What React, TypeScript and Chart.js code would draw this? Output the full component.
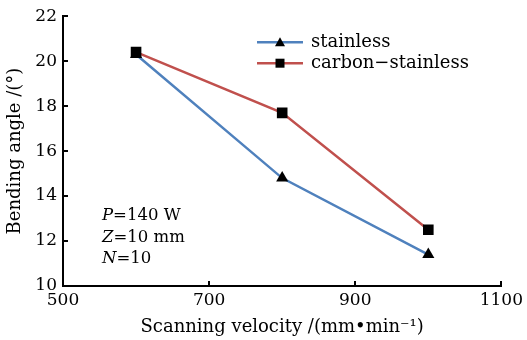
import React, { useEffect, useRef } from 'react';
import { Chart, registerables } from 'chart.js';

Chart.register(...registerables);

const velocities = [600, 800, 1000];
const stainless = [20.3, 14.8, 11.4];
const carbonStainless = [20.4, 17.7, 12.5];
const xTicks = [500, 700, 900, 1100];
const yTicks = [10, 12, 14, 16, 18, 20, 22];
const seriesNames = ['stainless', 'carbon\u2212stainless'];
const seriesColors = ['#4F81BD', '#C0504D'];
const seriesMarkers = ['triangle', 'rect'];
const annotations = [
  ['P', '=140 W'],
  ['Z', '=10 mm'],
  ['N', '=10'],
];
const xTitle = 'Scanning velocity /(mm\u2022min\u207B\u00B9)';
const yTitle = 'Bending angle /(\u00B0)';

const FONT = '"DejaVu Serif", "Liberation Serif", serif';

const decor = {
  id: 'decor',
  afterDraw(chart: any) {
    const ctx = chart.ctx as CanvasRenderingContext2D;
    const xs = chart.scales.x;
    const ys = chart.scales.y;
    const area = chart.chartArea;
    ctx.save();
    // inward ticks
    ctx.strokeStyle = '#000';
    ctx.lineWidth = 2;
    yTicks.slice(1).forEach((v) => {
      const py = Math.round(ys.getPixelForValue(v));
      ctx.beginPath();
      ctx.moveTo(area.left, py);
      ctx.lineTo(area.left + 5, py);
      ctx.stroke();
    });
    xTicks.slice(1).forEach((v) => {
      const px = Math.round(xs.getPixelForValue(v));
      ctx.beginPath();
      ctx.moveTo(px, area.bottom);
      ctx.lineTo(px, area.bottom - 5);
      ctx.stroke();
    });

    // legend
    const lx = area.left + 194;
    const rows = [area.top + 26, area.top + 47];
    seriesNames.forEach((name, i) => {
      const ry = rows[i];
      ctx.strokeStyle = seriesColors[i];
      ctx.lineWidth = 2.5;
      ctx.beginPath();
      ctx.moveTo(lx, ry);
      ctx.lineTo(lx + 46, ry);
      ctx.stroke();
      ctx.fillStyle = '#000';
      ctx.beginPath();
      const cx = lx + 23;
      if (seriesMarkers[i] === 'triangle') {
        ctx.moveTo(cx, ry - 5);
        ctx.lineTo(cx + 5, ry + 4);
        ctx.lineTo(cx - 5, ry + 4);
        ctx.closePath();
      } else {
        ctx.rect(cx - 4.5, ry - 4.5, 9, 9);
      }
      ctx.fill();
      ctx.font = '18px ' + FONT;
      ctx.textBaseline = 'middle';
      ctx.textAlign = 'left';
      ctx.fillText(name, lx + 54, ry);
    });

    // annotation
    const ax = area.left + 39;
    const arows = [area.top + 200, area.top + 222, area.top + 243];
    annotations.forEach(([it, rest], i) => {
      ctx.fillStyle = '#000';
      ctx.textBaseline = 'middle';
      ctx.font = 'italic 16.5px ' + FONT;
      ctx.fillText(it, ax, arows[i]);
      const w = ctx.measureText(it).width;
      ctx.font = '16.5px ' + FONT;
      ctx.fillText(rest, ax + w, arows[i]);
    });
    ctx.restore();
  },
};

export default function App() {
  const ref = useRef<HTMLCanvasElement | null>(null);
  useEffect(() => {
    if (!ref.current) return;
    const chart = new Chart(ref.current, {
      type: 'line',
      data: {
        datasets: [
          {
            label: seriesNames[1],
            data: velocities.map((v, i) => ({ x: v, y: carbonStainless[i] })),
            borderColor: seriesColors[1],
            backgroundColor: '#000',
            pointBackgroundColor: '#000',
            pointBorderColor: '#000',
            pointStyle: 'rect',
            pointRadius: 7.5,
            borderWidth: 2.5,
            pointBorderWidth: 0,
            tension: 0,
            order: 0,
          },
          {
            label: seriesNames[0],
            data: velocities.map((v, i) => ({ x: v, y: stainless[i] })),
            borderColor: seriesColors[0],
            backgroundColor: '#000',
            pointBackgroundColor: '#000',
            pointBorderColor: '#000',
            pointStyle: 'triangle',
            pointRadius: 7,
            borderWidth: 2.5,
            pointBorderWidth: 0,
            tension: 0,
            order: 1,
          },
        ],
      },
      options: {
        animation: false,
        responsive: false,
        layout: { padding: { top: 15, right: 25, left: 0, bottom: 0 } },
        plugins: {
          legend: { display: false },
          tooltip: { enabled: false },
        },
        scales: {
          x: {
            type: 'linear',
            min: 500,
            max: 1100,
            afterBuildTicks: (s: any) => {
              s.ticks = xTicks.map((v) => ({ value: v }));
            },
            afterFit: (s: any) => {
              s.height = 54;
            },
            grid: { display: false, drawTicks: false },
            border: { display: true, color: '#000', width: 2 },
            ticks: {
              color: '#000',
              padding: 4,
              maxRotation: 0,
              callback: (v: any) => String(v),
              font: { family: FONT, size: 17 },
            },
            title: {
              display: true,
              text: xTitle,
              color: '#000',
              font: { family: FONT, size: 18 },
              padding: { top: 0, bottom: 2 },
            },
          },
          y: {
            type: 'linear',
            min: 10,
            max: 22,
            afterBuildTicks: (s: any) => {
              s.ticks = yTicks.map((v) => ({ value: v }));
            },
            afterFit: (s: any) => {
              s.width = 63;
            },
            grid: { display: false, drawTicks: false },
            border: { display: true, color: '#000', width: 2 },
            ticks: {
              color: '#000',
              padding: 6,
              callback: (v: any) => String(v),
              font: { family: FONT, size: 17 },
            },
            title: {
              display: true,
              text: yTitle,
              color: '#000',
              font: { family: FONT, size: 18 },
              padding: { top: 5, bottom: 0 },
            },
          },
        },
      },
      plugins: [decor],
    } as any);
    return () => chart.destroy();
  }, []);
  return (
    <div style={{ position: 'fixed', left: 0, top: 0, width: 527, height: 340, background: '#fff' }}>
      <canvas ref={ref} width={527} height={340} style={{ display: 'block' }} />
    </div>
  );
}
